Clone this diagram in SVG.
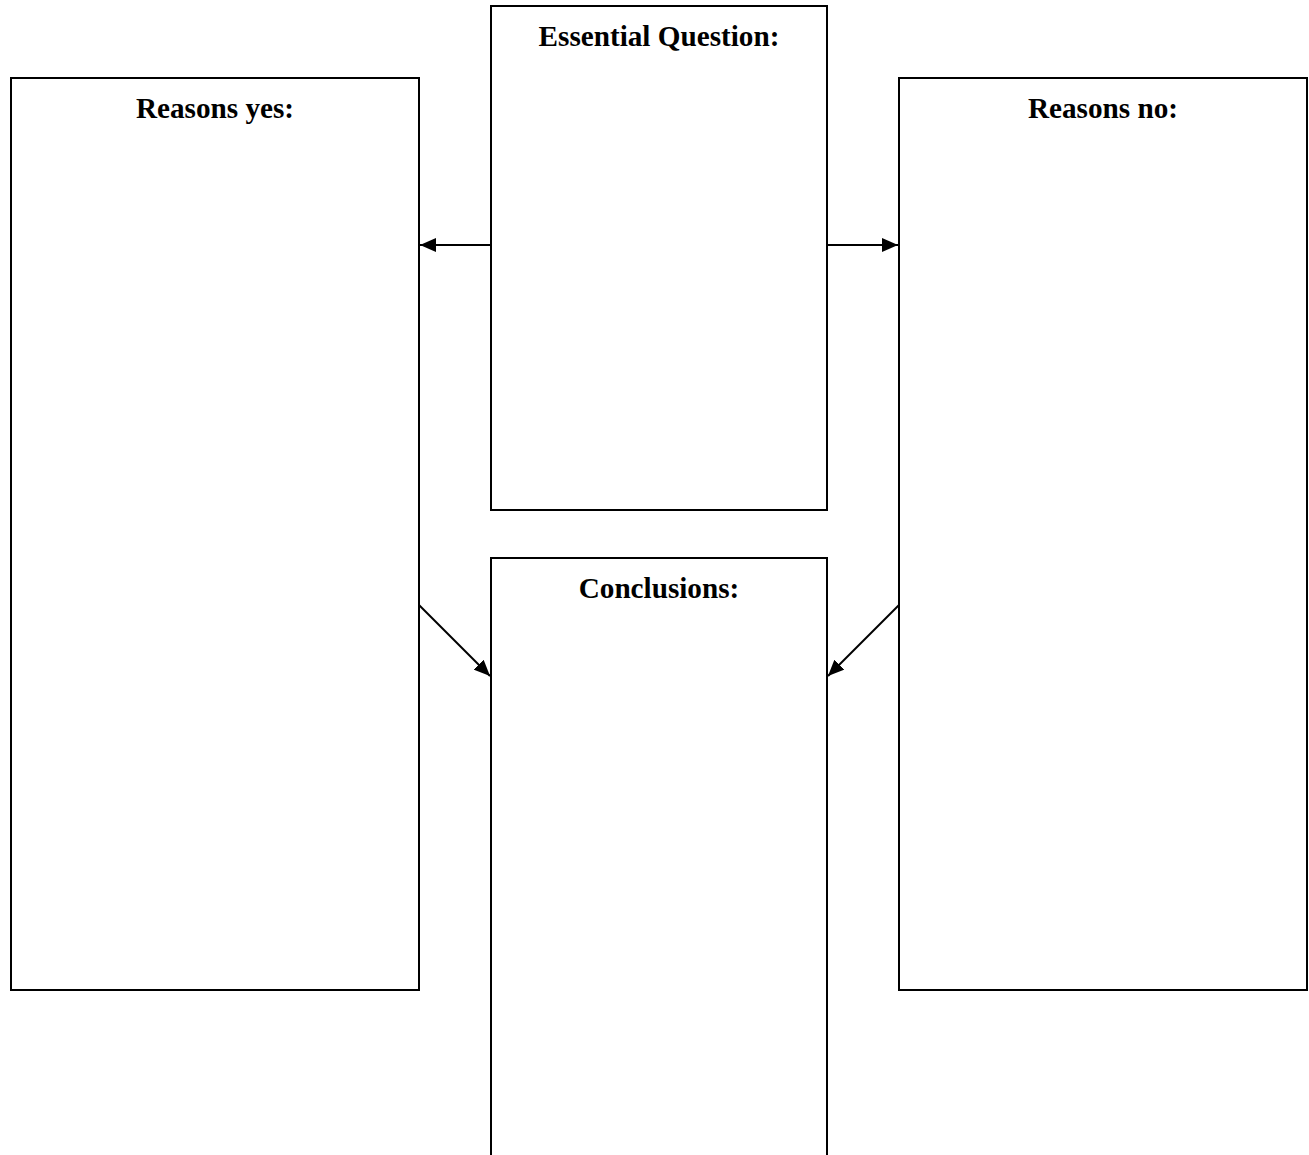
<svg xmlns="http://www.w3.org/2000/svg" width="1309" height="1155" viewBox="0 0 1309 1155">
<style>
.box{fill:#fff;stroke:#000;stroke-width:2}
.lbl{font-family:"Liberation Serif","Times New Roman",serif;font-weight:bold;font-size:29.2px;text-anchor:middle;fill:#000}
.con{stroke:#000;stroke-width:2;fill:none;marker-end:url(#ah)}
</style>
<defs>
<marker id="ah" viewBox="0 0 16 14" refX="16" refY="7" markerWidth="16" markerHeight="14" markerUnits="userSpaceOnUse" orient="auto">
<path d="M0,0 L16,7 L0,14 z" fill="#000"/>
</marker>
</defs>
<rect width="1309" height="1155" fill="#fff"/>
<g id="essential-question">
<rect class="box" x="491" y="6" width="336" height="504"/>
<text class="lbl" x="659" y="46">Essential Question:</text>
</g>
<g id="reasons-yes">
<rect class="box" x="11" y="78" width="408" height="912"/>
<text class="lbl" x="215" y="118">Reasons yes:</text>
</g>
<g id="reasons-no">
<rect class="box" x="899" y="78" width="408" height="912"/>
<text class="lbl" x="1103" y="118">Reasons no:</text>
</g>
<g id="conclusions">
<path class="box" d="M491,1160 L491,558 L827,558 L827,1160"/>
<text class="lbl" x="659" y="598">Conclusions:</text>
</g>
<g id="connectors">
<line class="con" x1="491" y1="245" x2="420" y2="245"/>
<line class="con" x1="827" y1="245" x2="898" y2="245"/>
<line class="con" x1="419" y1="605" x2="490" y2="676"/>
<line class="con" x1="899" y1="605" x2="828" y2="676"/>
</g>
</svg>
